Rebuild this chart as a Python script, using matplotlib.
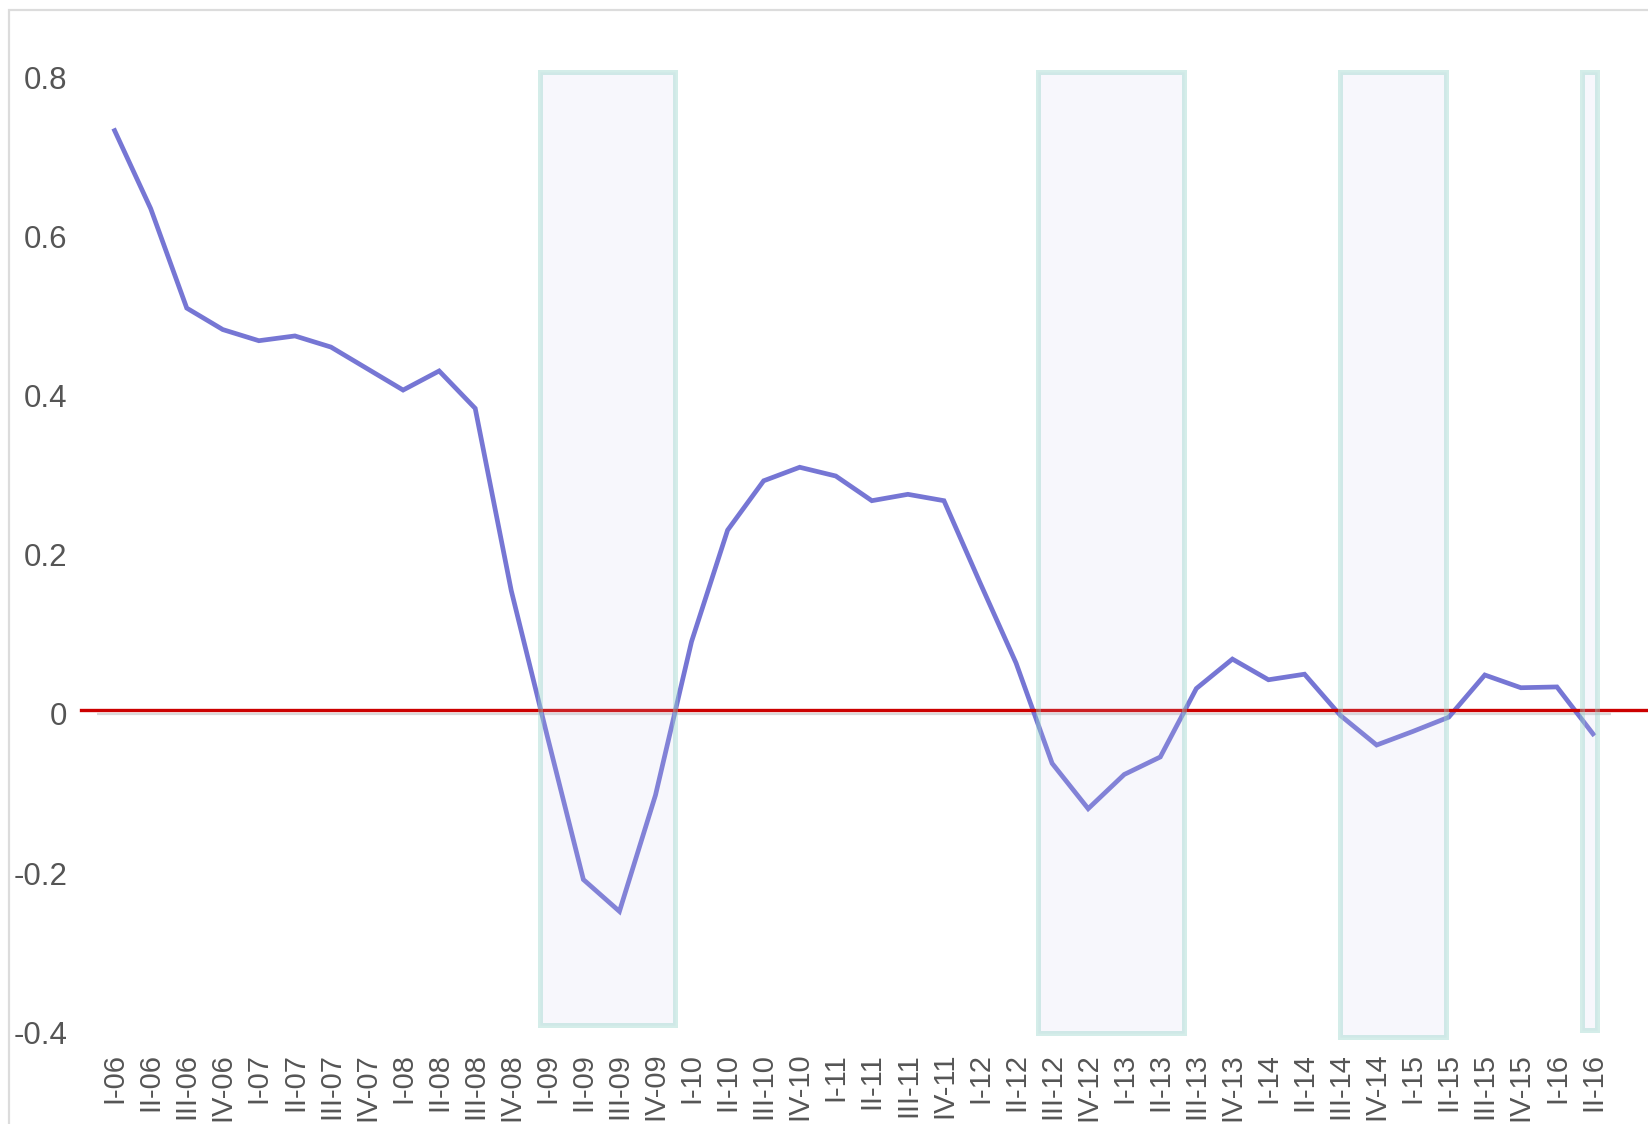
import matplotlib
matplotlib.use("Agg")
import matplotlib.pyplot as plt
from matplotlib.patches import Rectangle

plt.rcParams["font.family"] = ["Liberation Sans", "DejaVu Sans"]

# quarterly labels I-06 .. II-16
quarters = ["I", "II", "III", "IV"]
labels = [f"{q}-{y:02d}" for y in range(6, 17) for q in quarters][:42]

values = [0.733, 0.635, 0.510, 0.483, 0.469, 0.475, 0.461, 0.434, 0.407, 0.431,
          0.384, 0.155, -0.028, -0.208, -0.248, -0.102, 0.091, 0.231, 0.293, 0.310,
          0.299, 0.268, 0.276, 0.268, 0.165, 0.064, -0.062, -0.119, -0.076, -0.054,
          0.032, 0.069, 0.043, 0.050, -0.002, -0.039, -0.022, -0.004, 0.049, 0.033,
          0.034, -0.025]

# shaded periods (in quarter-index units) and their vertical extent
band_start = [11.80, 25.60, 33.99, 40.70]
band_end = [15.54, 29.66, 36.91, 41.11]
band_top = [0.807, 0.807, 0.807, 0.807]
band_bottom = [-0.391, -0.401, -0.406, -0.397]

yticks = [0.8, 0.6, 0.4, 0.2, 0, -0.2, -0.4]
ytick_labels = ["0.8", "0.6", "0.4", "0.2", "0", "-0.2", "-0.4"]
ref_level = 0.005

fig = plt.figure(figsize=(16.49, 11.24), dpi=100)
ax = fig.add_axes([0.05858, 0.0695, 0.91838, 0.9184])

x = list(range(len(values)))
ax.axhline(0, color="#d9d9d9", lw=1.6, zorder=1)
ax.plot(x, values, color="#7676d4", lw=3.4, solid_joinstyle="miter", zorder=2)
ax.axhline(ref_level, xmin=-0.0103, xmax=1.03, color="#cc0000", lw=2.4,
           clip_on=False, zorder=3)

for x0, x1, top, bot in zip(band_start, band_end, band_top, band_bottom):
    ax.add_patch(Rectangle((x0, bot), x1 - x0, top - bot,
                           facecolor=(202/255, 202/255, 235/255, 0.15),
                           edgecolor=(148/255, 210/255, 200/255, 0.4),
                           lw=3.6, zorder=4))

ax.set_xlim(-0.5, len(values) - 0.5)
ax.set_ylim(-0.417, 0.88)
ax.set_xticks(x)
ax.set_xticklabels(labels, rotation=90, fontsize=21, color="#555555")
ax.set_yticks(yticks)
ax.set_yticklabels(ytick_labels, fontsize=22.5, color="#555555")
ax.tick_params(axis="both", length=0)
ax.tick_params(axis="x", pad=5)
ax.tick_params(axis="y", pad=21)
for s in ax.spines.values():
    s.set_visible(False)

# light frame around the chart area (cropped at right/bottom)
fig.add_artist(Rectangle((0.0055, -0.1), 1.2, 0.9907 + 0.1, transform=fig.transFigure,
                         fill=False, edgecolor="#dcdcdc", lw=1.6))

fig.savefig("out.png", dpi=100)
